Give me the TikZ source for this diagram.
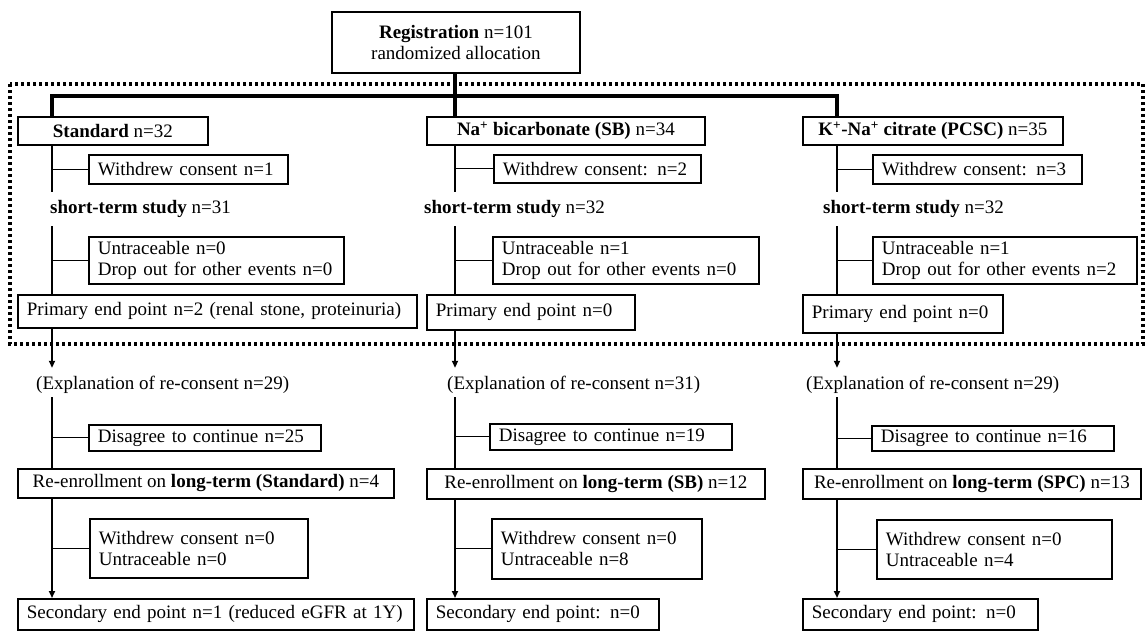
\documentclass[tikz,border=0pt]{standalone}
\usepackage{fontspec}
\setmainfont{Liberation Serif}
\usetikzlibrary{arrows.meta}
\begin{document}
\begin{tikzpicture}[x=1pt,y=-1pt,
  every node/.style={font=\fontsize{19}{21}\selectfont},
  bx/.style={draw, line width=1.8pt, anchor=north west, inner xsep=9pt, inner ysep=0pt},
  cbox/.style n args={2}{bx, minimum width=#1pt, minimum height=#2pt, align=center},
  lbox/.style n args={2}{bx, text width=#1pt-18pt, minimum height=#2pt, align=left},
  lbl/.style={anchor=west, inner xsep=0pt, inner ysep=0pt, minimum height=34pt},
  exl/.style={anchor=west, inner xsep=0pt, inner ysep=0pt, minimum height=24pt},
  tree/.style={line width=3.2pt, line join=miter},
  trunk/.style={line width=1.8pt},
  side/.style={line width=1pt},
  arr/.style={line width=1.8pt, -{Triangle[length=7pt,width=6pt]}},
  frame/.style={line width=3.2pt, dash pattern=on 3pt off 3pt}]
\useasboundingbox (0,0) rectangle (1147,630);

\draw[frame] (10,84) rectangle (1143,344);

\coordinate (c1) at (52,0);
\coordinate (c2) at (455,0);
\coordinate (c3) at (837,0);
\coordinate (hb) at (0,96);

\node[cbox={248}{61}] (reg) at (331,11) {\textbf{Registration} n=101\\randomized allocation};

% column 1
\node[cbox={190}{28}] (std) at (17,116) {\textbf{Standard} n=32};
\node[lbox={199}{29}] (wd1) at (88,154) {Withdrew consent n=1};
\node[lbl] (st1) at (50,209) {\textbf{short-term study} n=31};
\node[lbox={255}{47}] (ut1) at (88,236) {Untraceable n=0\\Drop out for other events n=0};
\node[lbox={399}{33}] (pe1) at (17,294) {Primary end point n=2 (renal stone, proteinuria)};
\node[exl] (ex1) at (36,385) {(Explanation of re-consent n=29)};
\node[lbox={232}{26}] (dg1) at (88,424) {Disagree to continue n=25};
\node[cbox={376}{29}] (re1) at (17,468) {Re-enrollment on \textbf{long-term (Standard)} n=4};
\node[lbox={218}{59}] (wu1) at (89,518) {Withdrew consent n=0\\Untraceable n=0};
\node[lbox={396}{31}] (se1) at (17,598) {Secondary end point n=1 (reduced eGFR at 1Y)};

% column 2
\node[cbox={278}{28}] (sb) at (426,116) {\textbf{Na\textsuperscript{+} bicarbonate (SB)} n=34};
\node[lbox={207}{28}] (wd2) at (493,154) {Withdrew consent: n=2};
\node[lbl] (st2) at (424,209) {\textbf{short-term study} n=32};
\node[lbox={266}{47}] (ut2) at (492,236) {Untraceable n=1\\Drop out for other events n=0};
\node[lbox={208}{35}] (pe2) at (426,294) {Primary end point n=0};
\node[exl] (ex2) at (447,385) {(Explanation of re-consent n=31)};
\node[lbox={242}{26}] (dg2) at (489,423) {Disagree to continue n=19};
\node[cbox={338}{30}] (re2) at (426,468) {Re-enrollment on \textbf{long-term (SB)} n=12};
\node[lbox={210}{60}] (wu2) at (491,518) {Withdrew consent n=0\\Untraceable n=8};
\node[lbox={232}{31}] (se2) at (426,598) {Secondary end point: n=0};

% column 3
\node[cbox={260}{28}] (pc) at (802,116) {\textbf{K\textsuperscript{+}-Na\textsuperscript{+} citrate (PCSC)} n=35};
\node[lbox={209}{29}] (wd3) at (872,154) {Withdrew consent: n=3};
\node[lbl] (st3) at (823,209) {\textbf{short-term study} n=32};
\node[lbox={264}{47}] (ut3) at (872,236) {Untraceable n=1\\Drop out for other events n=2};
\node[lbox={200}{38}] (pe3) at (802,294) {Primary end point n=0};
\node[exl] (ex3) at (806,385) {(Explanation of re-consent n=29)};
\node[lbox={242}{25}] (dg3) at (871,425) {Disagree to continue n=16};
\node[cbox={338}{30}] (re3) at (802,468) {Re-enrollment on \textbf{long-term (SPC)} n=13};
\node[lbox={235}{59}] (wu3) at (876,519) {Withdrew consent n=0\\Untraceable n=4};
\node[lbox={235}{31}] (se3) at (802,598) {Secondary end point: n=0};

% tree
\draw[tree] (reg.south -| c2) -- (sb.north -| c2);
\draw[tree] (std.north -| c1) -- (hb -| c1) -- (hb -| c3) -- (pc.north -| c3);

% columns
\foreach \c/\h/\w/\s/\u/\p/\e/\d/\r/\v/\f in {c1/std/wd1/st1/ut1/pe1/ex1/dg1/re1/wu1/se1, c2/sb/wd2/st2/ut2/pe2/ex2/dg2/re2/wu2/se2, c3/pc/wd3/st3/ut3/pe3/ex3/dg3/re3/wu3/se3}{
  \draw[trunk] (\h.south -| \c) -- (\s.north -| \c);
  \draw[trunk] (\s.south -| \c) -- (\p.north -| \c);
  \draw[arr, shorten >=5pt] (\p.south -| \c) -- (\e.north -| \c);
  \draw[trunk] (\e.south -| \c) -- (\r.north -| \c);
  \draw[arr] (\r.south -| \c) -- (\f.north -| \c);
  \draw[side] (\w.west -| \c) -- (\w.west);
  \draw[side] (\u.west -| \c) -- (\u.west);
  \draw[side] (\d.west -| \c) -- (\d.west);
  \draw[side] (\v.west -| \c) -- (\v.west);
}
\end{tikzpicture}
\end{document}
